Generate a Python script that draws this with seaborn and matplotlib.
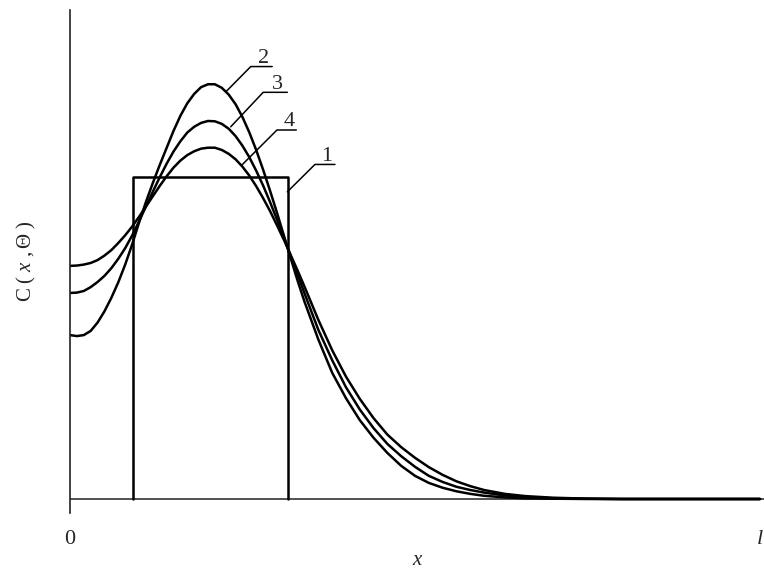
import numpy as np
import pandas as pd
import seaborn as sns
import matplotlib
matplotlib.use("Agg")
import matplotlib.pyplot as plt

# ---- data (x in units of l, C relative to pulse height) ----
x_grid = [0.00, 0.01, 0.02, 0.03, 0.04, 0.05, 0.06, 0.07, 0.08, 0.09,
          0.10, 0.11, 0.12, 0.13, 0.14, 0.15, 0.16, 0.17, 0.18, 0.19,
          0.20, 0.21, 0.22, 0.23, 0.24, 0.25, 0.26, 0.27, 0.28, 0.29,
          0.30, 0.31, 0.32, 0.33, 0.34,
          0.36, 0.38, 0.40, 0.42, 0.44, 0.46, 0.48, 0.50, 0.52, 0.54,
          0.56, 0.58, 0.60, 0.63, 0.66, 0.70, 0.75, 0.80, 1.00]

curve_2 = [0.509, 0.506, 0.509, 0.522, 0.548, 0.583, 0.625, 0.673, 0.728, 0.790,
           0.858, 0.922, 0.981, 1.037, 1.090, 1.143, 1.190, 1.229, 1.258, 1.279,
           1.288, 1.288, 1.277, 1.256, 1.226, 1.186, 1.138, 1.083, 1.022, 0.957,
           0.889, 0.818, 0.747, 0.677, 0.612,
           0.495, 0.392, 0.313, 0.245, 0.190, 0.143, 0.103, 0.072, 0.050, 0.035,
           0.024, 0.016, 0.010, 0.005, 0.002, 0.001, 0.0, 0.0, 0.0]

curve_3 = [0.640, 0.641, 0.646, 0.658, 0.674, 0.693, 0.717, 0.746, 0.779, 0.818,
           0.862, 0.908, 0.954, 0.999, 1.041, 1.079, 1.111, 1.138, 1.156, 1.168,
           1.174, 1.173, 1.165, 1.150, 1.127, 1.097, 1.061, 1.019, 0.973, 0.922,
           0.868, 0.812, 0.754, 0.696, 0.638,
           0.525, 0.431, 0.347, 0.278, 0.220, 0.171, 0.133, 0.100, 0.072, 0.053,
           0.038, 0.028, 0.020, 0.011, 0.006, 0.002, 0.001, 0.0, 0.0]

curve_4 = [0.724, 0.725, 0.728, 0.733, 0.742, 0.756, 0.773, 0.795, 0.819, 0.846,
           0.876, 0.908, 0.940, 0.972, 1.002, 1.029, 1.051, 1.068, 1.080, 1.088,
           1.091, 1.091, 1.084, 1.072, 1.055, 1.032, 1.004, 0.971, 0.934, 0.894,
           0.850, 0.805, 0.757, 0.709, 0.659,
           0.556, 0.462, 0.380, 0.311, 0.251, 0.200, 0.161, 0.128, 0.099, 0.075,
           0.055, 0.040, 0.028, 0.016, 0.009, 0.004, 0.001, 0.0, 0.0]

# initial rectangular pulse (curve 1)
rect_x = [0.092, 0.092, 0.316, 0.316]
rect_y = [0.0, 1.0, 1.0, 0.0]

# curve labels: (name, start on curve, elbow, end of underline)
labels = [
    ("1", (0.315, 0.954), (0.355, 1.039), (0.384, 1.039)),
    ("2", (0.227, 1.267), (0.262, 1.343), (0.293, 1.343)),
    ("3", (0.233, 1.156), (0.280, 1.263), (0.315, 1.263)),
    ("4", (0.249, 1.037), (0.300, 1.146), (0.328, 1.146)),
]

# ---- style ----
sns.set_theme(style="white")
plt.rcParams['font.family'] = ['Liberation Serif', 'DejaVu Serif']
plt.rcParams['mathtext.fontset'] = 'custom'
plt.rcParams['mathtext.rm'] = 'Liberation Serif'
plt.rcParams['mathtext.it'] = 'Liberation Serif:italic'

fig = plt.figure(figsize=(7.64, 5.69), dpi=100)
ax = fig.add_axes([0.0916, 0.0984, 0.9084, 0.884])

df = pd.DataFrame({
    'x': x_grid * 3,
    'C': curve_2 + curve_3 + curve_4,
    'curve': ['2'] * len(x_grid) + ['3'] * len(x_grid) + ['4'] * len(x_grid),
})
sns.lineplot(data=df, x='x', y='C', units='curve', estimator=None, sort=False,
             color='black', linewidth=1.8, ax=ax)
sns.lineplot(x=rect_x, y=rect_y, sort=False, estimator=None,
             color='black', linewidth=1.8, ax=ax)

# x axis drawn as a line at C = 0
ax.axhline(0, color='#333333', linewidth=1.2, zorder=1)

# leader lines with underlined curve numbers
for name, p0, p1, p2 in labels:
    ax.plot([p0[0], p1[0], p2[0]], [p0[1], p1[1], p2[1]], color='black', linewidth=1.1)
    ax.text((p1[0] + p2[0]) / 2 + 0.003, p1[1] - 0.004, name, ha='center', va='bottom', fontsize=16)

ax.set_xlim(0, 1.0058)
ax.set_ylim(-0.0435, 1.5186)

for side in ['top', 'right', 'bottom']:
    ax.spines[side].set_visible(False)
ax.spines['left'].set_color('#222222')
ax.spines['left'].set_linewidth(1.2)

ax.set_yticks([])
ax.set_xticks([0, 1])
ax.set_xticklabels(['0', 'l'], fontsize=16)
ax.get_xticklabels()[1].set_fontstyle('italic')
ax.tick_params(axis='x', length=0, pad=12)

ax.set_xlabel('x', fontsize=15, fontstyle='italic', labelpad=2)
ax.set_ylabel(r'$\mathrm{C}\ (\ x\ ,\Theta\ )$', fontsize=15, labelpad=23)

fig.savefig('out.png', dpi=100, facecolor='white')
